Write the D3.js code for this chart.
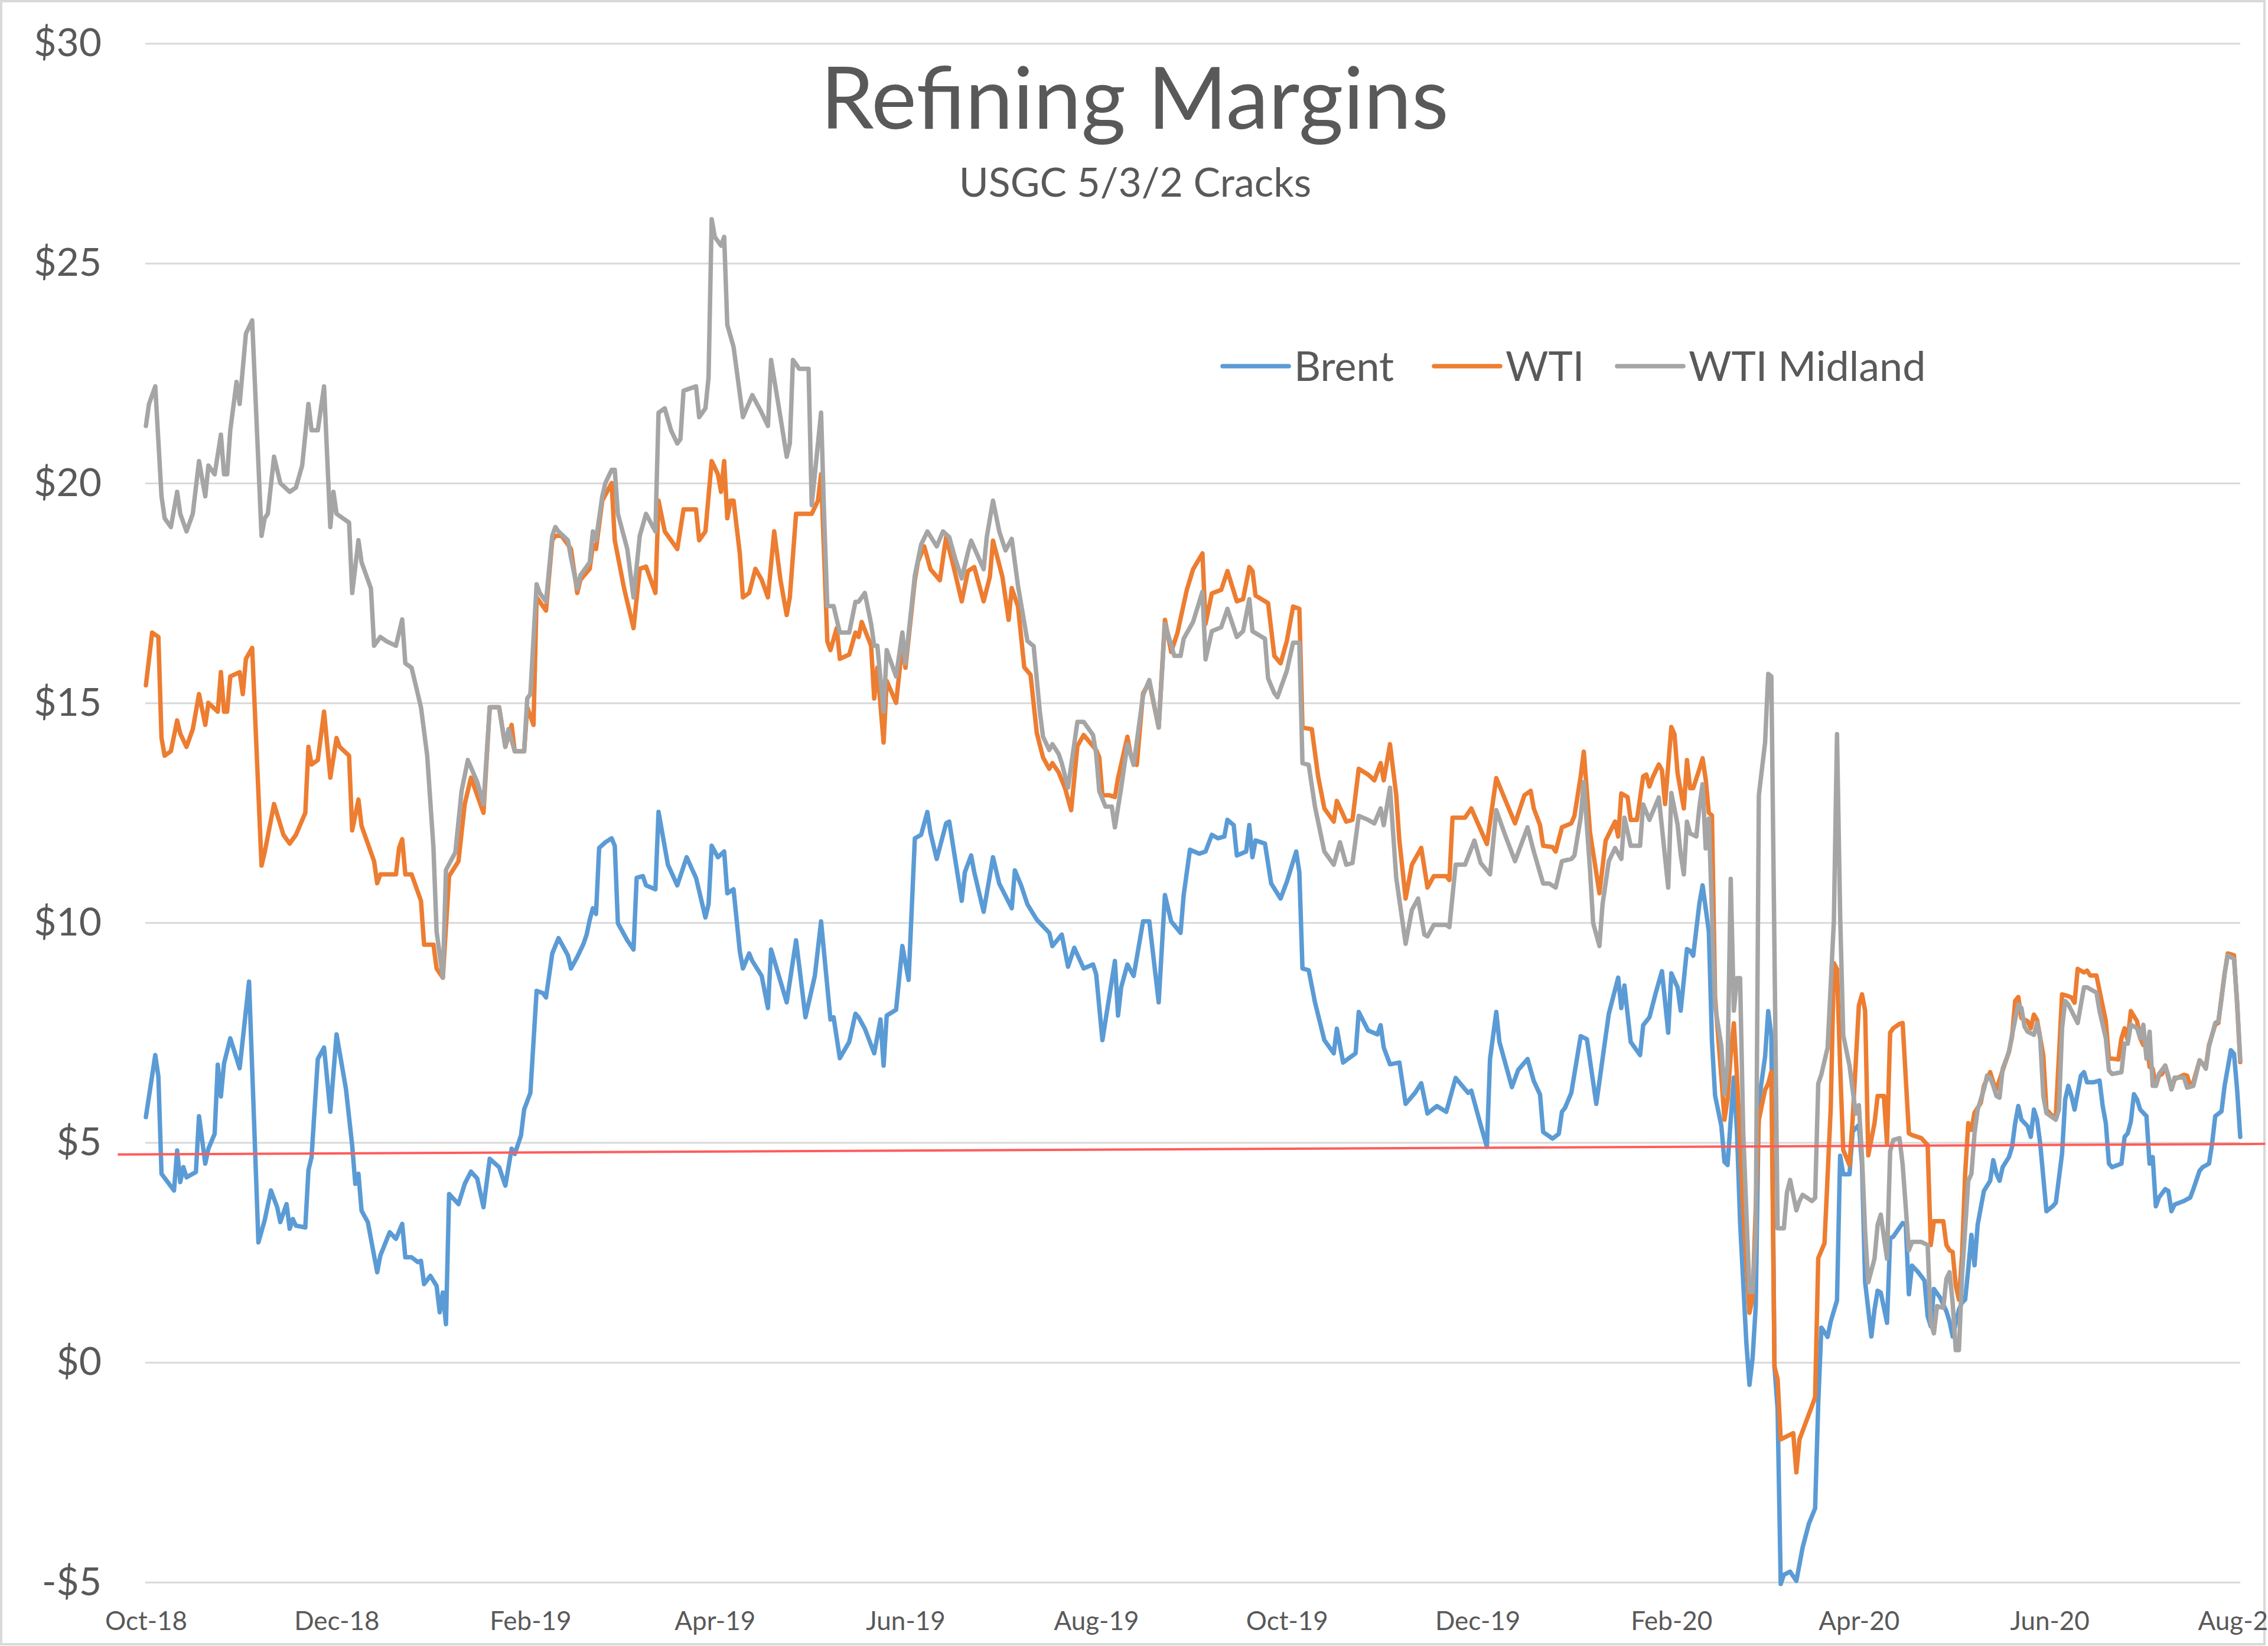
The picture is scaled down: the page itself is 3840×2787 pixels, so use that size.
<!DOCTYPE html>
<html><head><meta charset="utf-8">
<script src="https://cdn.jsdelivr.net/npm/d3@7"></script>
<style>html,body{margin:0;padding:0;background:#fff;overflow:hidden}</style>
</head><body>
<svg id="chart" width="3840" height="2787"></svg>
<script>
const seriesNames = ["Brent", "WTI", "WTI Midland"];
const seriesColors = ["#5B9BD5", "#ED7D31", "#A5A5A5"];
const yTicks = [-5, 0, 5, 10, 15, 20, 25, 30];
const xTickDates = ["2018-10-01","2018-12-01","2019-02-01","2019-04-01","2019-06-01","2019-08-01","2019-10-01","2019-12-01","2020-02-01","2020-04-01","2020-06-01","2020-08-01"];
const xTickLabels = ["Oct-18","Dec-18","Feb-19","Apr-19","Jun-19","Aug-19","Oct-19","Dec-19","Feb-20","Apr-20","Jun-20","Aug-20"];
const xDomain = ["2018-10-01", "2020-08-01"];
const yDomain = [-5, 30];
const title = "Refining Margins";
const subtitle = "USGC 5/3/2 Cracks";
const threshold = [["2018-09-22",4.73],["2020-08-09",4.97]];

const brent = [["2018-10-01",5.58],["2018-10-02",6.05],["2018-10-04",6.99],["2018-10-05",6.5],["2018-10-06",4.29],["2018-10-10",3.91],["2018-10-11",4.82],["2018-10-12",4.1],["2018-10-13",4.44],["2018-10-14",4.21],["2018-10-17",4.33],["2018-10-18",5.6],["2018-10-20",4.52],["2018-10-21",4.86],["2018-10-23",5.2],["2018-10-24",6.77],["2018-10-25",6.05],["2018-10-26",6.8],["2018-10-28",7.37],["2018-10-31",6.69],["2018-11-03",8.66],["2018-11-06",2.73],["2018-11-08",3.23],["2018-11-10",3.91],["2018-11-12",3.53],["2018-11-13",3.19],["2018-11-15",3.6],["2018-11-16",3.04],["2018-11-17",3.26],["2018-11-18",3.11],["2018-11-21",3.07],["2018-11-22",4.37],["2018-11-23",4.67],["2018-11-25",6.9],["2018-11-27",7.16],["2018-11-29",5.7],["2018-12-01",7.46],["2018-12-04",6.22],["2018-12-06",4.93],["2018-12-07",4.06],["2018-12-08",4.29],["2018-12-09",3.45],["2018-12-11",3.19],["2018-12-14",2.05],["2018-12-15",2.43],["2018-12-18",2.96],["2018-12-20",2.81],["2018-12-22",3.15],["2018-12-23",2.39],["2018-12-25",2.39],["2018-12-27",2.28],["2018-12-28",2.31],["2018-12-29",1.78],["2018-12-31",1.97],["2019-01-02",1.74],["2019-01-03",1.14],["2019-01-04",1.59],["2019-01-05",0.87],["2019-01-06",3.83],["2019-01-09",3.6],["2019-01-11",4.06],["2019-01-13",4.34],["2019-01-15",4.18],["2019-01-17",3.53],["2019-01-19",4.63],["2019-01-22",4.44],["2019-01-24",4.02],["2019-01-26",4.86],["2019-01-27",4.74],["2019-01-29",5.16],["2019-01-30",5.75],["2019-02-01",6.13],["2019-02-03",8.45],["2019-02-05",8.4],["2019-02-06",8.3],["2019-02-08",9.3],["2019-02-10",9.65],["2019-02-13",9.26],["2019-02-14",8.96],["2019-02-16",9.22],["2019-02-18",9.52],["2019-02-19",9.73],["2019-02-20",10.07],["2019-02-21",10.33],["2019-02-22",10.2],["2019-02-23",11.7],["2019-02-25",11.83],["2019-02-27",11.92],["2019-02-28",11.75],["2019-03-01",9.99],["2019-03-04",9.6],["2019-03-06",9.39],["2019-03-07",11.02],["2019-03-09",11.06],["2019-03-10",10.85],["2019-03-13",10.76],["2019-03-14",12.52],["2019-03-17",11.32],["2019-03-20",10.85],["2019-03-23",11.49],["2019-03-26",11.02],["2019-03-29",10.12],["2019-03-30",10.42],["2019-03-31",11.75],["2019-04-02",11.49],["2019-04-04",11.62],["2019-04-05",10.67],["2019-04-07",10.76],["2019-04-09",9.35],["2019-04-10",8.96],["2019-04-12",9.3],["2019-04-13",9.13],["2019-04-16",8.79],["2019-04-18",8.06],["2019-04-19",9.39],["2019-04-24",8.19],["2019-04-27",9.6],["2019-04-30",7.85],["2019-05-03",8.79],["2019-05-05",10.03],["2019-05-08",7.8],["2019-05-09",7.85],["2019-05-11",6.92],["2019-05-14",7.29],["2019-05-16",7.93],["2019-05-17",7.85],["2019-05-19",7.59],["2019-05-22",7.03],["2019-05-24",7.8],["2019-05-25",6.75],["2019-05-26",7.89],["2019-05-29",8.02],["2019-05-31",9.47],["2019-06-02",8.7],["2019-06-04",11.92],["2019-06-06",12.0],["2019-06-08",12.52],["2019-06-09",12.04],["2019-06-11",11.45],["2019-06-14",12.26],["2019-06-15",12.3],["2019-06-19",10.5],["2019-06-20",11.15],["2019-06-22",11.53],["2019-06-23",11.15],["2019-06-26",10.25],["2019-06-29",11.49],["2019-07-01",10.89],["2019-07-05",10.33],["2019-07-06",11.19],["2019-07-08",10.85],["2019-07-10",10.42],["2019-07-13",10.07],["2019-07-17",9.77],["2019-07-18",9.47],["2019-07-21",9.73],["2019-07-23",9.0],["2019-07-25",9.43],["2019-07-28",8.96],["2019-07-31",9.05],["2019-08-01",8.83],["2019-08-03",7.33],["2019-08-07",9.13],["2019-08-08",7.89],["2019-08-09",8.53],["2019-08-11",9.05],["2019-08-13",8.79],["2019-08-16",10.03],["2019-08-18",10.03],["2019-08-21",8.19],["2019-08-23",10.63],["2019-08-25",10.03],["2019-08-28",9.77],["2019-08-29",10.63],["2019-08-31",11.66],["2019-09-03",11.57],["2019-09-05",11.62],["2019-09-07",12.0],["2019-09-09",11.92],["2019-09-11",11.96],["2019-09-12",12.34],["2019-09-14",12.22],["2019-09-15",11.53],["2019-09-18",11.62],["2019-09-19",12.22],["2019-09-20",11.49],["2019-09-21",11.87],["2019-09-24",11.8],["2019-09-26",10.89],["2019-09-29",10.55],["2019-10-01",10.93],["2019-10-04",11.62],["2019-10-05",11.15],["2019-10-06",8.96],["2019-10-08",8.92],["2019-10-10",8.19],["2019-10-13",7.33],["2019-10-16",7.03],["2019-10-17",7.59],["2019-10-19",6.82],["2019-10-23",7.03],["2019-10-24",7.97],["2019-10-27",7.55],["2019-10-30",7.46],["2019-10-31",7.67],["2019-11-01",7.16],["2019-11-03",6.78],["2019-11-06",6.82],["2019-11-08",5.88],["2019-11-11",6.13],["2019-11-13",6.35],["2019-11-15",5.66],["2019-11-18",5.83],["2019-11-21",5.7],["2019-11-24",6.47],["2019-11-26",6.3],["2019-11-28",6.13],["2019-11-29",6.18],["2019-12-02",5.4],["2019-12-04",4.9],["2019-12-05",6.9],["2019-12-07",7.97],["2019-12-08",7.29],["2019-12-12",6.26],["2019-12-14",6.65],["2019-12-17",6.9],["2019-12-19",6.4],["2019-12-21",6.09],["2019-12-22",5.24],["2019-12-25",5.09],["2019-12-27",5.2],["2019-12-28",5.7],["2019-12-29",5.79],["2019-12-31",6.13],["2020-01-03",7.42],["2020-01-05",7.35],["2020-01-08",5.88],["2020-01-12",7.93],["2020-01-15",8.75],["2020-01-16",8.06],["2020-01-17",8.57],["2020-01-19",7.29],["2020-01-22",6.99],["2020-01-23",7.67],["2020-01-25",7.85],["2020-01-27",8.4],["2020-01-29",8.9],["2020-01-31",7.5],["2020-02-01",8.85],["2020-02-03",8.53],["2020-02-04",8.0],["2020-02-06",9.4],["2020-02-07",9.36],["2020-02-08",9.25],["2020-02-10",10.45],["2020-02-11",10.85],["2020-02-13",9.8],["2020-02-14",7.3],["2020-02-15",6.07],["2020-02-17",5.38],["2020-02-18",4.56],["2020-02-19",4.49],["2020-02-20",5.52],["2020-02-21",6.48],["2020-02-22",5.25],["2020-02-23",3.19],["2020-02-25",0.45],["2020-02-26",-0.51],["2020-02-27",0.1],["2020-02-28",1.27],["2020-02-29",5.93],["2020-03-02",6.96],["2020-03-03",7.99],["2020-03-04",7.44],["2020-03-05",-0.1],["2020-03-06",-1.06],["2020-03-07",-5.04],["2020-03-08",-4.83],["2020-03-10",-4.76],["2020-03-12",-4.97],["2020-03-14",-4.21],["2020-03-16",-3.67],["2020-03-18",-3.32],["2020-03-19",-0.92],["2020-03-20",0.79],["2020-03-22",0.58],["2020-03-23",0.93],["2020-03-25",1.41],["2020-03-26",4.7],["2020-03-27",4.28],["2020-03-29",4.28],["2020-03-30",5.25],["2020-04-01",5.4],["2020-04-02",4.5],["2020-04-03",1.82],["2020-04-05",0.59],["2020-04-06",1.2],["2020-04-07",1.63],["2020-04-08",1.59],["2020-04-10",0.9],["2020-04-11",2.82],["2020-04-12",2.86],["2020-04-15",3.17],["2020-04-16",3.13],["2020-04-17",1.55],["2020-04-18",2.2],["2020-04-20",2.05],["2020-04-22",1.86],["2020-04-23",1.05],["2020-04-24",0.82],["2020-04-25",1.67],["2020-04-27",1.47],["2020-04-29",1.16],["2020-04-30",0.93],["2020-05-01",0.59],["2020-05-03",1.2],["2020-05-04",1.36],["2020-05-05",1.43],["2020-05-06",2.13],["2020-05-07",2.9],["2020-05-08",2.21],["2020-05-09",3.13],["2020-05-10",3.52],["2020-05-11",3.9],["2020-05-13",4.13],["2020-05-14",4.6],["2020-05-15",4.29],["2020-05-16",4.13],["2020-05-17",4.44],["2020-05-19",4.67],["2020-05-20",4.9],["2020-05-21",5.44],["2020-05-22",5.83],["2020-05-23",5.52],["2020-05-25",5.37],["2020-05-26",5.13],["2020-05-27",5.75],["2020-05-28",5.52],["2020-05-29",4.98],["2020-05-31",3.44],["2020-06-02",3.55],["2020-06-03",3.63],["2020-06-05",4.75],["2020-06-06",5.98],["2020-06-07",6.29],["2020-06-08",6.06],["2020-06-09",5.75],["2020-06-11",6.52],["2020-06-12",6.6],["2020-06-13",6.37],["2020-06-15",6.37],["2020-06-17",6.41],["2020-06-18",5.83],["2020-06-19",5.44],["2020-06-20",4.52],["2020-06-21",4.44],["2020-06-24",4.52],["2020-06-25",5.13],["2020-06-26",5.21],["2020-06-27",5.48],["2020-06-28",6.1],["2020-06-29",5.98],["2020-06-30",5.75],["2020-07-02",5.6],["2020-07-03",4.52],["2020-07-04",4.67],["2020-07-05",3.55],["2020-07-06",3.75],["2020-07-08",3.94],["2020-07-09",3.9],["2020-07-10",3.44],["2020-07-11",3.59],["2020-07-14",3.67],["2020-07-16",3.75],["2020-07-17",3.94],["2020-07-19",4.36],["2020-07-20",4.44],["2020-07-22",4.52],["2020-07-23",4.98],["2020-07-24",5.6],["2020-07-26",5.71],["2020-07-27",6.29],["2020-07-29",7.1],["2020-07-30",7.02],["2020-07-31",6.21],["2020-08-01",5.13]];

const wti = [["2018-10-01",15.4],["2018-10-03",16.6],["2018-10-05",16.5],["2018-10-06",14.2],["2018-10-07",13.8],["2018-10-09",13.9],["2018-10-11",14.6],["2018-10-12",14.3],["2018-10-14",14.0],["2018-10-16",14.4],["2018-10-18",15.2],["2018-10-20",14.5],["2018-10-21",15.0],["2018-10-24",14.8],["2018-10-25",15.7],["2018-10-26",14.8],["2018-10-27",14.8],["2018-10-28",15.6],["2018-10-31",15.7],["2018-11-01",15.2],["2018-11-02",16.0],["2018-11-04",16.25],["2018-11-07",11.3],["2018-11-08",11.6],["2018-11-11",12.7],["2018-11-14",12.0],["2018-11-16",11.8],["2018-11-18",12.0],["2018-11-21",12.5],["2018-11-22",14.0],["2018-11-23",13.6],["2018-11-25",13.7],["2018-11-27",14.8],["2018-11-29",13.3],["2018-12-01",14.2],["2018-12-02",14.0],["2018-12-05",13.8],["2018-12-06",12.1],["2018-12-08",12.8],["2018-12-09",12.2],["2018-12-13",11.4],["2018-12-14",10.9],["2018-12-15",11.1],["2018-12-20",11.1],["2018-12-21",11.7],["2018-12-22",11.9],["2018-12-23",11.1],["2018-12-25",11.1],["2018-12-28",10.5],["2018-12-29",9.5],["2019-01-01",9.5],["2019-01-02",8.96],["2019-01-04",8.75],["2019-01-06",11.06],["2019-01-09",11.4],["2019-01-11",12.7],["2019-01-13",13.3],["2019-01-17",12.5],["2019-01-19",14.9],["2019-01-22",14.9],["2019-01-24",14.0],["2019-01-26",14.5],["2019-01-27",13.9],["2019-01-30",13.9],["2019-01-31",14.9],["2019-02-02",14.5],["2019-02-03",17.4],["2019-02-06",17.1],["2019-02-08",18.7],["2019-02-09",18.8],["2019-02-11",18.8],["2019-02-14",18.5],["2019-02-16",17.5],["2019-02-17",17.8],["2019-02-20",18.05],["2019-02-21",18.6],["2019-02-22",18.5],["2019-02-24",19.6],["2019-02-27",20.0],["2019-02-28",18.7],["2019-03-03",17.6],["2019-03-06",16.7],["2019-03-08",18.05],["2019-03-10",18.1],["2019-03-13",17.5],["2019-03-14",19.6],["2019-03-16",18.9],["2019-03-18",18.7],["2019-03-20",18.5],["2019-03-22",19.4],["2019-03-26",19.4],["2019-03-27",18.7],["2019-03-29",18.9],["2019-03-31",20.5],["2019-04-02",20.2],["2019-04-03",19.8],["2019-04-04",20.5],["2019-04-05",19.2],["2019-04-06",19.6],["2019-04-07",19.6],["2019-04-09",18.4],["2019-04-10",17.4],["2019-04-12",17.5],["2019-04-14",18.05],["2019-04-16",17.8],["2019-04-18",17.4],["2019-04-20",18.9],["2019-04-22",17.8],["2019-04-24",17.0],["2019-04-25",17.4],["2019-04-27",19.3],["2019-04-29",19.3],["2019-05-01",19.3],["2019-05-02",19.3],["2019-05-04",19.6],["2019-05-05",20.2],["2019-05-07",16.4],["2019-05-08",16.2],["2019-05-10",16.7],["2019-05-11",16.0],["2019-05-14",16.1],["2019-05-16",16.6],["2019-05-17",16.5],["2019-05-18",16.84],["2019-05-21",16.3],["2019-05-22",15.1],["2019-05-23",15.8],["2019-05-25",14.1],["2019-05-26",15.5],["2019-05-29",15.0],["2019-05-31",16.33],["2019-06-01",15.8],["2019-06-04",17.79],["2019-06-05",18.21],["2019-06-07",18.56],["2019-06-09",18.04],["2019-06-12",17.79],["2019-06-14",18.77],["2019-06-16",18.21],["2019-06-19",17.31],["2019-06-21",18.0],["2019-06-23",18.09],["2019-06-26",17.31],["2019-06-28",17.87],["2019-06-29",18.69],["2019-07-02",17.87],["2019-07-04",16.89],["2019-07-05",17.61],["2019-07-07",17.19],["2019-07-09",15.81],["2019-07-11",15.64],["2019-07-13",14.32],["2019-07-15",13.76],["2019-07-17",13.5],["2019-07-18",13.63],["2019-07-20",13.42],["2019-07-22",13.07],["2019-07-24",12.56],["2019-07-26",14.02],["2019-07-28",14.27],["2019-07-30",14.1],["2019-08-01",13.93],["2019-08-02",13.76],["2019-08-03",12.9],["2019-08-05",12.9],["2019-08-07",12.86],["2019-08-08",13.29],["2019-08-11",14.23],["2019-08-12",13.84],["2019-08-14",13.59],["2019-08-16",15.22],["2019-08-18",15.47],["2019-08-21",14.44],["2019-08-23",16.89],["2019-08-25",16.16],["2019-08-27",16.59],["2019-08-30",17.57],["2019-09-01",18.04],["2019-09-04",18.4],["2019-09-05",16.8],["2019-09-07",17.49],["2019-09-10",17.57],["2019-09-12",18.0],["2019-09-15",17.31],["2019-09-17",17.36],["2019-09-19",18.09],["2019-09-20",18.0],["2019-09-21",17.44],["2019-09-25",17.27],["2019-09-27",16.07],["2019-09-29",15.9],["2019-10-01",16.41],["2019-10-03",17.19],["2019-10-05",17.14],["2019-10-06",14.44],["2019-10-09",14.4],["2019-10-11",13.33],["2019-10-13",12.6],["2019-10-16",12.3],["2019-10-17",12.77],["2019-10-20",12.3],["2019-10-22",12.34],["2019-10-24",13.5],["2019-10-27",13.37],["2019-10-29",13.24],["2019-10-31",13.63],["2019-11-01",13.24],["2019-11-03",14.06],["2019-11-05",12.9],["2019-11-06",11.87],["2019-11-08",10.55],["2019-11-10",11.32],["2019-11-13",11.7],["2019-11-15",10.8],["2019-11-17",11.06],["2019-11-21",11.06],["2019-11-22",10.97],["2019-11-23",12.39],["2019-11-27",12.39],["2019-11-29",12.6],["2019-12-04",11.79],["2019-12-07",13.29],["2019-12-10",12.77],["2019-12-13",12.26],["2019-12-16",12.9],["2019-12-18",13.0],["2019-12-19",12.6],["2019-12-21",12.22],["2019-12-22",11.75],["2019-12-25",11.72],["2019-12-26",11.62],["2019-12-28",12.17],["2019-12-31",12.26],["2020-01-01",12.43],["2020-01-03",13.33],["2020-01-04",13.89],["2020-01-06",12.05],["2020-01-09",10.67],["2020-01-11",11.87],["2020-01-14",12.3],["2020-01-15",11.96],["2020-01-16",12.94],["2020-01-18",12.86],["2020-01-19",12.34],["2020-01-21",12.34],["2020-01-23",13.33],["2020-01-24",13.37],["2020-01-25",13.1],["2020-01-26",13.3],["2020-01-28",13.6],["2020-01-29",13.47],["2020-01-30",12.7],["2020-02-01",14.45],["2020-02-02",14.29],["2020-02-03",13.4],["2020-02-05",12.6],["2020-02-06",13.7],["2020-02-07",13.06],["2020-02-08",13.06],["2020-02-10",13.5],["2020-02-11",13.74],["2020-02-12",13.26],["2020-02-13",12.5],["2020-02-14",12.44],["2020-02-15",8.3],["2020-02-17",6.5],["2020-02-18",5.52],["2020-02-19",6.0],["2020-02-20",7.0],["2020-02-21",7.71],["2020-02-22",6.5],["2020-02-24",3.5],["2020-02-26",1.13],["2020-02-27",1.47],["2020-02-29",5.52],["2020-03-02",6.2],["2020-03-03",6.34],["2020-03-04",6.61],["2020-03-05",-0.1],["2020-03-06",-0.38],["2020-03-07",-1.75],["2020-03-09",-1.68],["2020-03-11",-1.61],["2020-03-12",-2.5],["2020-03-13",-1.75],["2020-03-17",-0.99],["2020-03-18",-0.79],["2020-03-19",2.37],["2020-03-21",2.71],["2020-03-23",5.79],["2020-03-24",9.08],["2020-03-25",8.94],["2020-03-26",6.75],["2020-03-27",4.83],["2020-03-29",4.49],["2020-03-30",5.52],["2020-04-01",8.12],["2020-04-02",8.37],["2020-04-03",8.0],["2020-04-04",4.71],["2020-04-06",5.44],["2020-04-07",6.06],["2020-04-09",6.06],["2020-04-10",4.98],["2020-04-11",7.5],["2020-04-12",7.6],["2020-04-14",7.7],["2020-04-15",7.72],["2020-04-17",5.21],["2020-04-18",5.17],["2020-04-21",5.1],["2020-04-23",4.94],["2020-04-24",2.67],["2020-04-25",3.21],["2020-04-28",3.21],["2020-04-29",2.67],["2020-04-30",2.55],["2020-05-01",2.51],["2020-05-02",1.74],["2020-05-03",1.43],["2020-05-04",2.44],["2020-05-05",4.29],["2020-05-06",5.44],["2020-05-07",5.29],["2020-05-08",5.68],["2020-05-10",5.9],["2020-05-11",6.29],["2020-05-13",6.6],["2020-05-14",6.37],["2020-05-15",6.21],["2020-05-17",6.64],["2020-05-19",7.06],["2020-05-20",7.41],["2020-05-21",8.22],["2020-05-22",8.31],["2020-05-23",7.83],["2020-05-25",7.76],["2020-05-26",7.6],["2020-05-27",7.91],["2020-05-28",7.79],["2020-05-30",6.98],["2020-05-31",5.75],["2020-06-02",5.6],["2020-06-03",5.6],["2020-06-04",6.98],["2020-06-05",8.37],["2020-06-07",8.33],["2020-06-08",8.3],["2020-06-09",8.18],["2020-06-10",8.95],["2020-06-12",8.87],["2020-06-13",8.91],["2020-06-14",8.8],["2020-06-16",8.8],["2020-06-17",8.45],["2020-06-19",7.76],["2020-06-20",6.91],["2020-06-21",6.91],["2020-06-23",6.89],["2020-06-24",7.37],["2020-06-25",7.6],["2020-06-26",7.33],["2020-06-27",7.99],["2020-06-29",7.76],["2020-06-30",7.37],["2020-07-01",7.22],["2020-07-02",7.29],["2020-07-03",6.72],["2020-07-04",6.68],["2020-07-05",6.29],["2020-07-06",6.52],["2020-07-07",6.56],["2020-07-08",6.75],["2020-07-10",6.21],["2020-07-11",6.44],["2020-07-14",6.54],["2020-07-15",6.52],["2020-07-16",6.29],["2020-07-17",6.37],["2020-07-19",6.87],["2020-07-20",6.79],["2020-07-21",6.72],["2020-07-22",7.22],["2020-07-24",7.68],["2020-07-25",7.72],["2020-07-26",8.3],["2020-07-27",8.84],["2020-07-28",9.3],["2020-07-30",9.26],["2020-07-31",8.14],["2020-08-01",6.83]];

const midland = [["2018-10-01",21.3],["2018-10-02",21.8],["2018-10-04",22.2],["2018-10-06",19.7],["2018-10-07",19.2],["2018-10-09",19.0],["2018-10-11",19.8],["2018-10-12",19.3],["2018-10-14",18.9],["2018-10-16",19.3],["2018-10-18",20.5],["2018-10-20",19.7],["2018-10-21",20.4],["2018-10-23",20.2],["2018-10-25",21.1],["2018-10-26",20.2],["2018-10-27",20.2],["2018-10-28",21.2],["2018-10-30",22.3],["2018-10-31",21.8],["2018-11-02",23.4],["2018-11-04",23.7],["2018-11-07",18.8],["2018-11-08",19.2],["2018-11-09",19.3],["2018-11-11",20.6],["2018-11-13",20.0],["2018-11-16",19.8],["2018-11-18",19.9],["2018-11-20",20.4],["2018-11-22",21.8],["2018-11-23",21.2],["2018-11-25",21.2],["2018-11-27",22.2],["2018-11-29",19.0],["2018-11-30",19.8],["2018-12-01",19.3],["2018-12-05",19.1],["2018-12-06",17.5],["2018-12-08",18.7],["2018-12-09",18.2],["2018-12-12",17.6],["2018-12-13",16.3],["2018-12-15",16.5],["2018-12-17",16.4],["2018-12-20",16.3],["2018-12-22",16.9],["2018-12-23",15.9],["2018-12-25",15.8],["2018-12-28",14.9],["2018-12-30",13.8],["2019-01-01",11.7],["2019-01-02",9.8],["2019-01-04",8.75],["2019-01-05",11.2],["2019-01-08",11.6],["2019-01-10",13.0],["2019-01-12",13.7],["2019-01-15",13.2],["2019-01-17",12.7],["2019-01-19",14.9],["2019-01-22",14.9],["2019-01-24",14.0],["2019-01-25",14.4],["2019-01-27",13.9],["2019-01-30",13.9],["2019-01-31",15.1],["2019-02-01",15.2],["2019-02-03",17.7],["2019-02-04",17.5],["2019-02-06",17.3],["2019-02-08",18.8],["2019-02-09",19.0],["2019-02-10",18.9],["2019-02-13",18.7],["2019-02-14",18.3],["2019-02-16",17.6],["2019-02-17",17.9],["2019-02-20",18.2],["2019-02-21",18.9],["2019-02-22",18.7],["2019-02-24",19.7],["2019-02-25",20.0],["2019-02-27",20.3],["2019-02-28",20.3],["2019-03-01",19.3],["2019-03-04",18.5],["2019-03-06",17.4],["2019-03-08",18.8],["2019-03-10",19.3],["2019-03-13",18.9],["2019-03-14",21.6],["2019-03-16",21.7],["2019-03-18",21.2],["2019-03-20",20.9],["2019-03-21",21.0],["2019-03-22",22.1],["2019-03-26",22.2],["2019-03-27",21.5],["2019-03-29",21.7],["2019-03-30",22.4],["2019-03-31",26.0],["2019-04-01",25.6],["2019-04-03",25.4],["2019-04-04",25.6],["2019-04-05",23.6],["2019-04-07",23.1],["2019-04-10",21.5],["2019-04-13",22.0],["2019-04-16",21.6],["2019-04-18",21.3],["2019-04-19",22.8],["2019-04-22",21.5],["2019-04-24",20.6],["2019-04-25",20.9],["2019-04-26",22.8],["2019-04-28",22.6],["2019-05-01",22.6],["2019-05-02",19.5],["2019-05-03",20.2],["2019-05-05",21.6],["2019-05-06",19.2],["2019-05-07",17.2],["2019-05-09",17.2],["2019-05-11",16.6],["2019-05-14",16.6],["2019-05-16",17.3],["2019-05-17",17.3],["2019-05-19",17.5],["2019-05-21",16.8],["2019-05-22",16.3],["2019-05-23",16.3],["2019-05-25",14.8],["2019-05-26",16.2],["2019-05-29",15.6],["2019-05-31",16.6],["2019-06-01",15.9],["2019-06-04",17.9],["2019-06-06",18.6],["2019-06-08",18.9],["2019-06-11",18.56],["2019-06-13",18.9],["2019-06-15",18.77],["2019-06-17",18.26],["2019-06-19",17.83],["2019-06-21",18.43],["2019-06-22",18.69],["2019-06-26",18.04],["2019-06-27",18.77],["2019-06-29",19.6],["2019-07-01",18.9],["2019-07-03",18.47],["2019-07-05",18.73],["2019-07-07",17.66],["2019-07-10",16.41],["2019-07-12",16.29],["2019-07-14",14.79],["2019-07-15",14.23],["2019-07-17",13.93],["2019-07-18",14.06],["2019-07-20",13.84],["2019-07-21",13.63],["2019-07-23",13.07],["2019-07-26",14.57],["2019-07-28",14.57],["2019-07-31",14.27],["2019-08-01",13.84],["2019-08-02",12.99],["2019-08-04",12.64],["2019-08-06",12.64],["2019-08-07",12.17],["2019-08-09",13.07],["2019-08-11",14.06],["2019-08-13",13.59],["2019-08-16",15.17],["2019-08-18",15.52],["2019-08-21",14.44],["2019-08-23",16.8],["2019-08-26",16.07],["2019-08-28",16.07],["2019-08-29",16.46],["2019-09-01",16.84],["2019-09-04",17.53],["2019-09-05",15.99],["2019-09-07",16.63],["2019-09-10",16.72],["2019-09-12",17.14],["2019-09-15",16.5],["2019-09-17",16.63],["2019-09-19",17.36],["2019-09-20",16.63],["2019-09-24",16.46],["2019-09-25",15.56],["2019-09-27",15.22],["2019-09-28",15.13],["2019-10-01",15.73],["2019-10-03",16.37],["2019-10-05",16.37],["2019-10-06",13.63],["2019-10-08",13.59],["2019-10-10",12.64],["2019-10-13",11.62],["2019-10-16",11.32],["2019-10-18",11.83],["2019-10-20",11.32],["2019-10-22",11.36],["2019-10-24",12.43],["2019-10-27",12.34],["2019-10-29",12.26],["2019-10-31",12.6],["2019-11-01",12.22],["2019-11-03",13.07],["2019-11-05",11.02],["2019-11-08",9.52],["2019-11-10",10.29],["2019-11-12",10.55],["2019-11-14",9.73],["2019-11-15",9.69],["2019-11-17",9.95],["2019-11-21",9.95],["2019-11-22",9.9],["2019-11-24",11.32],["2019-11-27",11.32],["2019-11-30",11.87],["2019-12-02",11.36],["2019-12-05",11.1],["2019-12-07",12.56],["2019-12-10",11.96],["2019-12-13",11.4],["2019-12-17",12.17],["2019-12-19",11.62],["2019-12-22",10.89],["2019-12-24",10.89],["2019-12-26",10.8],["2019-12-28",11.4],["2019-12-31",11.45],["2020-01-01",11.53],["2020-01-03",12.39],["2020-01-04",13.2],["2020-01-06",11.19],["2020-01-07",9.99],["2020-01-09",9.47],["2020-01-10",10.42],["2020-01-12",11.4],["2020-01-14",11.7],["2020-01-16",11.45],["2020-01-17",12.39],["2020-01-19",11.75],["2020-01-22",11.75],["2020-01-23",12.69],["2020-01-25",12.34],["2020-01-28",12.85],["2020-01-31",10.8],["2020-02-01",12.95],["2020-02-03",12.23],["2020-02-04",11.55],["2020-02-05",11.1],["2020-02-06",12.3],["2020-02-07",12.03],["2020-02-09",11.96],["2020-02-10",12.65],["2020-02-11",13.15],["2020-02-12",11.69],["2020-02-13",12.37],["2020-02-15",8.1],["2020-02-17",7.2],["2020-02-18",6.1],["2020-02-19",6.75],["2020-02-20",11.0],["2020-02-21",8.0],["2020-02-22",8.74],["2020-02-23",8.74],["2020-02-24",5.25],["2020-02-26",1.6],["2020-02-27",1.6],["2020-02-28",2.9],["2020-02-29",12.9],["2020-03-02",14.1],["2020-03-03",15.66],["2020-03-04",15.6],["2020-03-06",3.05],["2020-03-08",3.05],["2020-03-09",3.87],["2020-03-10",4.15],["2020-03-12",3.46],["2020-03-13",3.67],["2020-03-14",3.81],["2020-03-17",3.67],["2020-03-18",3.74],["2020-03-19",6.34],["2020-03-20",6.55],["2020-03-22",7.16],["2020-03-24",10.04],["2020-03-25",14.29],["2020-03-26",10.18],["2020-03-27",7.44],["2020-03-29",6.75],["2020-03-30",6.2],["2020-03-31",5.66],["2020-04-01",5.85],["2020-04-02",4.67],["2020-04-03",2.98],["2020-04-04",1.82],["2020-04-06",2.36],["2020-04-07",3.13],["2020-04-08",3.36],["2020-04-10",2.36],["2020-04-11",4.8],["2020-04-12",5.06],["2020-04-14",5.1],["2020-04-15",4.5],["2020-04-17",2.55],["2020-04-18",2.74],["2020-04-21",2.74],["2020-04-23",2.67],["2020-04-24",0.9],["2020-04-25",0.66],["2020-04-26",1.28],["2020-04-28",1.24],["2020-04-29",1.9],["2020-04-30",2.05],["2020-05-01",1.36],["2020-05-02",0.28],["2020-05-03",0.28],["2020-05-04",1.97],["2020-05-06",4.13],["2020-05-07",4.29],["2020-05-08",5.21],["2020-05-09",5.75],["2020-05-11",6.21],["2020-05-12",6.52],["2020-05-13",6.48],["2020-05-14",6.29],["2020-05-15",6.06],["2020-05-16",6.02],["2020-05-17",6.68],["2020-05-19",7.06],["2020-05-20",7.45],["2020-05-22",8.14],["2020-05-23",8.06],["2020-05-24",7.64],["2020-05-25",7.52],["2020-05-27",7.45],["2020-05-28",7.72],["2020-05-29",7.37],["2020-05-30",6.06],["2020-05-31",5.67],["2020-06-03",5.52],["2020-06-04",5.75],["2020-06-05",7.6],["2020-06-06",8.22],["2020-06-07",8.14],["2020-06-10",7.72],["2020-06-12",8.53],["2020-06-13",8.53],["2020-06-15",8.45],["2020-06-16",8.41],["2020-06-17",7.99],["2020-06-19",7.37],["2020-06-20",6.64],["2020-06-21",6.56],["2020-06-24",6.6],["2020-06-25",7.25],["2020-06-26",7.25],["2020-06-27",7.68],["2020-06-29",7.6],["2020-06-30",7.37],["2020-07-01",7.68],["2020-07-02",6.91],["2020-07-03",7.52],["2020-07-04",6.29],["2020-07-05",6.29],["2020-07-06",6.56],["2020-07-08",6.75],["2020-07-09",6.52],["2020-07-10",6.21],["2020-07-11",6.48],["2020-07-14",6.48],["2020-07-15",6.25],["2020-07-17",6.29],["2020-07-19",6.87],["2020-07-20",6.79],["2020-07-21",6.68],["2020-07-22",7.18],["2020-07-24",7.72],["2020-07-25",7.76],["2020-07-26",8.26],["2020-07-27",8.84],["2020-07-28",9.26],["2020-07-30",9.18],["2020-07-31",8.22],["2020-08-01",6.87]];

const allSeries = [brent, wti, midland];

// ---------- drawing ----------
const W = 3840, H = 2787;
const FONT = "Lato, 'Open Sans', sans-serif";
const TEXT = "#595959";
const parse = d3.timeParse("%Y-%m-%d");
const plot = {left: 246, right: 3793, top: 73.5, bottom: 2679};

const svg = d3.select("#chart");
svg.append("rect").attr("width", W).attr("height", H).attr("fill", "#fff");
svg.append("rect").attr("x", 2).attr("y", 2).attr("width", W - 8).attr("height", H - 5)
  .attr("fill", "none").attr("stroke", "#d9d9d9").attr("stroke-width", 4);

const x = d3.scaleTime().domain(xDomain.map(parse)).range([plot.left + 1, plot.right]);
const y = d3.scaleLinear().domain(yDomain).range([plot.bottom, plot.top]);

// y axis with gridlines
const yAxis = d3.axisLeft(y).tickValues(yTicks)
  .tickSize(-(plot.right - plot.left)).tickPadding(74)
  .tickFormat(v => (v < 0 ? "-$" : "$") + Math.abs(v));
const gy = svg.append("g").attr("transform", `translate(${plot.left},0)`).call(yAxis);
gy.select(".domain").remove();
gy.selectAll(".tick line").attr("stroke", "#d9d9d9").attr("stroke-width", 3);
gy.selectAll(".tick text").attr("fill", TEXT).style("font-family", FONT).style("font-size", "66px");

// x axis labels
const xAxis = d3.axisBottom(x).tickValues(xTickDates.map(parse))
  .tickFormat((d, i) => xTickLabels[i]).tickSize(0).tickPadding(50);
const gx = svg.append("g").attr("transform", `translate(0,${plot.bottom})`).call(xAxis);
gx.select(".domain").remove();
gx.selectAll(".tick text").attr("fill", TEXT).style("font-family", FONT).style("font-size", "44px");

// series
const line = d3.line().x(d => x(parse(d[0]))).y(d => y(d[1]));
allSeries.forEach((s, i) => {
  svg.append("path").datum(s).attr("d", line)
    .attr("fill", "none").attr("stroke", seriesColors[i]).attr("stroke-width", 7.5)
    .attr("stroke-linejoin", "round").attr("stroke-linecap", "round");
});

// threshold line
svg.append("path").datum(threshold).attr("d", line)
  .attr("fill", "none").attr("stroke", "#ff5c5c").attr("stroke-width", 4);

// title
svg.append("text").attr("x", 1921).attr("y", 218).attr("text-anchor", "middle")
  .attr("fill", TEXT).style("font-family", FONT).style("font-size", "145px").text(title);
svg.append("text").attr("x", 1922).attr("y", 333).attr("text-anchor", "middle")
  .attr("fill", TEXT).style("font-family", FONT).style("font-size", "68px").text(subtitle);

// legend
const legendX = [2070, 2428, 2738];
const legend = svg.append("g");
seriesNames.forEach((n, i) => {
  const g = legend.append("g").attr("transform", `translate(${legendX[i]},620)`);
  g.append("line").attr("x1", 0).attr("x2", 112).attr("y1", 0).attr("y2", 0)
    .attr("stroke", seriesColors[i]).attr("stroke-width", 7.5).attr("stroke-linecap", "round");
  g.append("text").attr("x", 121).attr("y", 0).attr("dy", "0.35em")
    .attr("fill", TEXT).style("font-family", FONT).style("font-size", "70px").text(n);
});
</script>
</body></html>
